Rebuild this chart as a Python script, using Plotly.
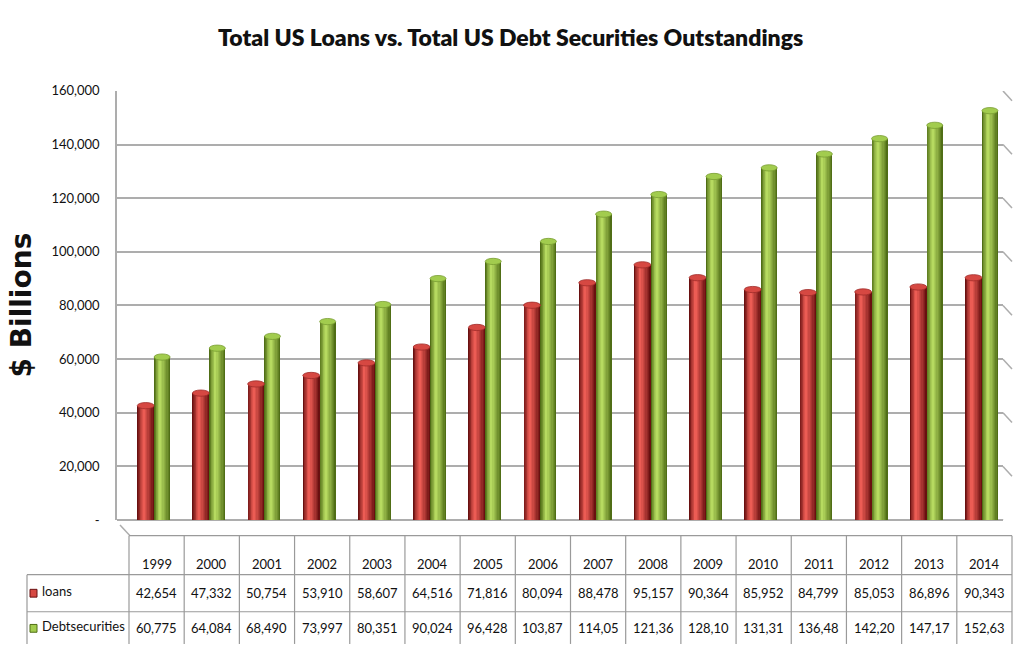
import plotly.graph_objects as go

# ---- data -------------------------------------------------------------
years = ["1999", "2000", "2001", "2002", "2003", "2004", "2005", "2006",
         "2007", "2008", "2009", "2010", "2011", "2012", "2013", "2014"]
loans = [42654, 47332, 50754, 53910, 58607, 64516, 71816, 80094,
         88478, 95157, 90364, 85952, 84799, 85053, 86896, 90343]
debt_securities = [60775, 64084, 68490, 73997, 80351, 90024, 96428, 103870,
                   114050, 121360, 128100, 131310, 136480, 142200, 147170, 152630]
series_names = ["loans", "Debtsecurities"]
y_tickvals = [0, 20000, 40000, 60000, 80000, 100000, 120000, 140000, 160000]
y_ticktext = ["-", "20,000", "40,000", "60,000", "80,000", "100,000",
              "120,000", "140,000", "160,000"]

W, H = 1014, 650
BODY_FONT = "Lato, Open Sans, sans-serif"


def px(x):
    return x / W


def py(y):
    return 1 - y / H


# table / axis geometry (pixels)
col_left, col_right = 129.0, 1012.0
col_w = (col_right - col_left) / len(years)
wall_left, wall_right = 117.0, 1003.0
y_zero_px, y_top_px = 525.0, 85.0
y_max = 160000
units_per_px = y_max / (y_zero_px - y_top_px)

# x axis range so that category i sits in the centre of table column i
x_lo = (wall_left - col_left) / col_w - 0.5
x_hi = (wall_right - col_left) / col_w - 0.5


def mix(c1, c2, t):
    return tuple(round(a + (b - a) * t) for a, b in zip(c1, c2))


def rgb(c):
    return "rgb(%d,%d,%d)" % c


styles = [
    dict(offset=-0.35, width=0.305, dark=(105, 16, 16), light=(236, 92, 84),
         cap=(214, 72, 66)),
    dict(offset=-0.045, width=0.29, dark=(80, 110, 22), light=(182, 218, 96),
         cap=(162, 204, 78)),
]

fig = go.Figure()
shapes = []
xs = list(range(len(years)))

# cylinder bars: nested layers that brighten toward a highlight line
N = 8
for name, vals, st in zip(series_names, [loans, debt_securities], styles):
    o, w = st["offset"], st["width"]
    h = o + 0.36 * w
    for k in range(N):
        a = 1 - k / N
        left = h - a * 0.36 * w
        right = h + a * 0.64 * w
        t = (k / (N - 1)) ** 0.9
        fig.add_trace(go.Bar(
            x=xs, y=vals, offset=left, width=right - left,
            marker=dict(color=rgb(mix(st["dark"], st["light"], t)), line_width=0),
            name=name, showlegend=False, hoverinfo="skip" if k else None,
        ))
    # elliptical top caps
    cap_h = 3.2 * units_per_px
    for i, v in zip(xs, vals):
        shapes.append(dict(
            type="circle", xref="x", yref="y", layer="above",
            x0=i + o, x1=i + o + w, y0=v - cap_h, y1=v + cap_h,
            fillcolor=rgb(st["cap"]),
            line=dict(color=rgb(mix(st["dark"], st["cap"], 0.5)), width=0.8),
        ))

grid_col = "#ADADAD"

# side-wall stubs on the right end of each gridline
for v in y_tickvals:
    shapes.append(dict(type="line", xref="paper", yref="y", layer="below",
                       x0=px(wall_right), x1=px(col_right),
                       y0=v, y1=v - 10 * units_per_px,
                       line=dict(color=grid_col, width=1.5)))

# floor edge on the left
shapes.append(dict(type="line", xref="paper", yref="paper",
                   x0=px(wall_left + 3), y0=py(y_zero_px + 5), x1=px(col_left + 1), y1=py(541),
                   line=dict(color=grid_col, width=1.5)))

# data table grid
tbl_col = "#9A9A9A"
row_top, row1, row2, row_bot = 541, 581, 619, 652
shapes.append(dict(type="line", xref="paper", yref="paper", x0=px(col_left), x1=px(col_right),
                   y0=py(row_top), y1=py(row_top), line=dict(color=tbl_col, width=1.2)))
for yy in (row1, row2):
    shapes.append(dict(type="line", xref="paper", yref="paper", x0=px(27), x1=px(col_right),
                       y0=py(yy), y1=py(yy), line=dict(color=tbl_col, width=1.2)))
for k in range(len(years) + 1):
    xx = col_left + k * col_w
    shapes.append(dict(type="line", xref="paper", yref="paper", x0=px(xx), x1=px(xx),
                       y0=py(row_top), y1=py(row_bot), line=dict(color=tbl_col, width=1.2)))
shapes.append(dict(type="line", xref="paper", yref="paper", x0=px(27), x1=px(27),
                   y0=py(row1), y1=py(row_bot), line=dict(color=tbl_col, width=1.2)))

row_y = [570, 600, 636]

# legend keys inside the table
for st, yc in zip(styles, row_y[1:]):
    shapes.append(dict(type="rect", xref="paper", yref="paper",
                       x0=px(30), x1=px(37), y0=py(yc + 4), y1=py(yc - 4),
                       fillcolor=rgb(st["cap"]), line=dict(color=rgb(st["dark"]), width=1)))

annotations = []
# title
annotations.append(dict(
    text="Total US Loans vs. Total US Debt Securities Outstandings",
    xref="paper", yref="paper", x=px(510), y=py(30), showarrow=False,
    xanchor="center", yanchor="middle",
    font=dict(family=BODY_FONT, size=23, color="#111111", weight=800)))
# y-axis title
annotations.append(dict(
    text="<b>$ Billions</b>", xref="paper", yref="paper", x=px(21), y=py(305),
    showarrow=False, textangle=-90, xanchor="center", yanchor="middle",
    font=dict(family="DejaVu Sans, sans-serif", size=28, color="#111111")))

tfont = dict(family=BODY_FONT, size=13, color="#111111")
for i, yr in enumerate(years):
    annotations.append(dict(text=yr, xref="x", yref="paper", x=i, y=py(row_y[0]),
                            xanchor="center", yanchor="middle", showarrow=False, font=tfont))
    annotations.append(dict(text=f"{loans[i]:,}", xref="x", yref="paper", x=i, y=py(row_y[1]),
                            xanchor="center", yanchor="middle", showarrow=False, font=tfont))
    # the debt column is too narrow for seven characters, so it clips like the source sheet
    annotations.append(dict(text=f"{debt_securities[i]:,}"[:6], xref="x", yref="paper", x=i,
                            y=py(row_y[2]), xanchor="center", yanchor="middle",
                            showarrow=False, font=tfont))
for name, yy in zip(series_names, row_y[1:]):
    annotations.append(dict(text=name, xref="paper", yref="paper", x=px(40), y=py(yy - 2),
                            xanchor="left", yanchor="middle", showarrow=False, font=tfont))

fig.update_layout(
    width=W, height=H,
    margin=dict(l=0, r=0, t=0, b=0),
    paper_bgcolor="white", plot_bgcolor="white",
    barmode="overlay", bargap=0,
    showlegend=False,
    xaxis=dict(domain=[px(wall_left), px(wall_right)], range=[x_lo, x_hi],
               showticklabels=False, showgrid=False, zeroline=False, showline=False,
               fixedrange=True),
    yaxis=dict(domain=[py(y_zero_px), py(y_top_px)], range=[0, y_max],
               tickvals=y_tickvals, ticktext=y_ticktext,
               ticks="outside", ticklen=13, tickcolor="rgba(0,0,0,0)",
               tickfont=dict(family=BODY_FONT, size=13, color="#111111"),
               showgrid=True, gridcolor=grid_col, gridwidth=1.5,
               zeroline=True, zerolinecolor=grid_col, zerolinewidth=1.5,
               showline=True, linecolor=grid_col, linewidth=1.5,
               fixedrange=True),
    shapes=shapes,
    annotations=annotations,
)

fig.write_html("out.html")
